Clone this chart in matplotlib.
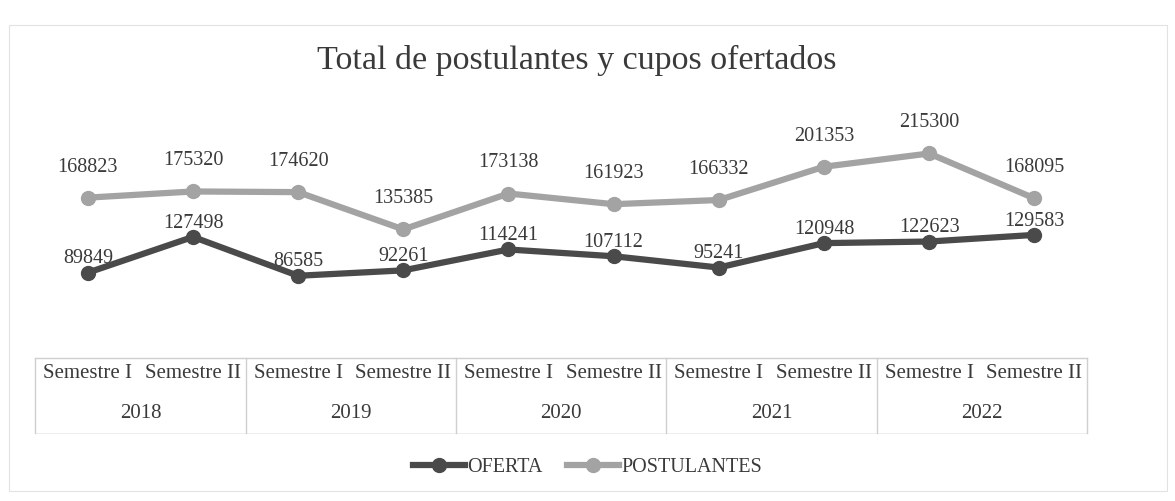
import matplotlib
matplotlib.use("Agg")
import matplotlib.pyplot as plt
from matplotlib.patches import Rectangle

years = ["2018", "2019", "2020", "2021", "2022"]
semesters = ["Semestre I", "Semestre II"]
oferta = [89849, 127498, 86585, 92261, 114241, 107112, 95241, 120948, 122623, 129583]
postulantes = [168823, 175320, 174620, 135385, 173138, 161923, 166332, 201353, 215300, 168095]

INK = "#3a3a3a"
DARK = "#4a4a4a"
LIGHT = "#a3a3a3"
LINE = "#cfcfcf"

plt.rcParams["font.family"] = ["Liberation Serif", "DejaVu Serif"]

fig = plt.figure(figsize=(11.75, 5.01), dpi=100)
fig.patch.set_facecolor("white")
ax = fig.add_axes([0.030, 0.2854, 0.895, 0.493])

x = list(range(len(oferta)))
ax.plot(x, postulantes, color=LIGHT, lw=4.5, marker="o", ms=10, label="POSTULANTES", zorder=3)
ax.plot(x, oferta, color=DARK, lw=4.5, marker="o", ms=10, label="OFERTA", zorder=4)

for xi, v in zip(x, postulantes):
    ax.annotate(f"{v}", (xi, v), xytext=(0, 22), textcoords="offset points",
                ha="center", va="center", fontsize=14.5, color=INK)
for xi, v in zip(x, oferta):
    ax.annotate(f"{v}", (xi, v), xytext=(0, 10), textcoords="offset points",
                ha="center", va="center", fontsize=14.5, color=INK)

ax.set_xlim(-0.5, len(x) - 0.5)
ax.set_ylim(0, 260000)
ax.set_xticks([]); ax.set_yticks([])
for sp in ax.spines.values():
    sp.set_visible(False)

# two-level category table below the plot
tr = ax.get_xaxis_transform()
tbl_bottom = -0.304
ax.plot([-0.5, len(x) - 0.5], [0, 0], transform=tr, color=LINE, lw=1, clip_on=False)
ax.plot([-0.5, len(x) - 0.5], [tbl_bottom, tbl_bottom], transform=tr, color=LINE, lw=0.6,
        clip_on=False, alpha=0.4)
for k in range(len(years) + 1):
    xv = -0.5 + 2 * k
    ax.plot([xv, xv], [0, tbl_bottom], transform=tr, color=LINE, lw=1, clip_on=False)
for i in x:
    ax.text(i, -0.062, semesters[i % 2], transform=tr, ha="center", va="center",
            fontsize=15, color=INK)
for k, yr in enumerate(years):
    ax.text(2 * k + 0.5, -0.225, yr, transform=tr, ha="center", va="center",
            fontsize=15, color=INK)

fig.text(0.491, 0.88, "Total de postulantes y cupos ofertados", ha="center", va="center",
         fontsize=24.5, color=INK)

h, l = ax.get_legend_handles_labels()
fig.legend(h[::-1], l[::-1], loc="center", bbox_to_anchor=(0.5, 0.066), ncol=2,
           frameon=False, fontsize=14.5, handlelength=2.6, handletextpad=0.1,
           columnspacing=1.2, labelcolor=INK)

fig.patches.append(Rectangle((0.008, 0.02), 0.985, 0.93, transform=fig.transFigure,
                             fill=False, ec="#e2e2e2", lw=0.8))

fig.savefig("out.png", dpi=100, facecolor="white")
